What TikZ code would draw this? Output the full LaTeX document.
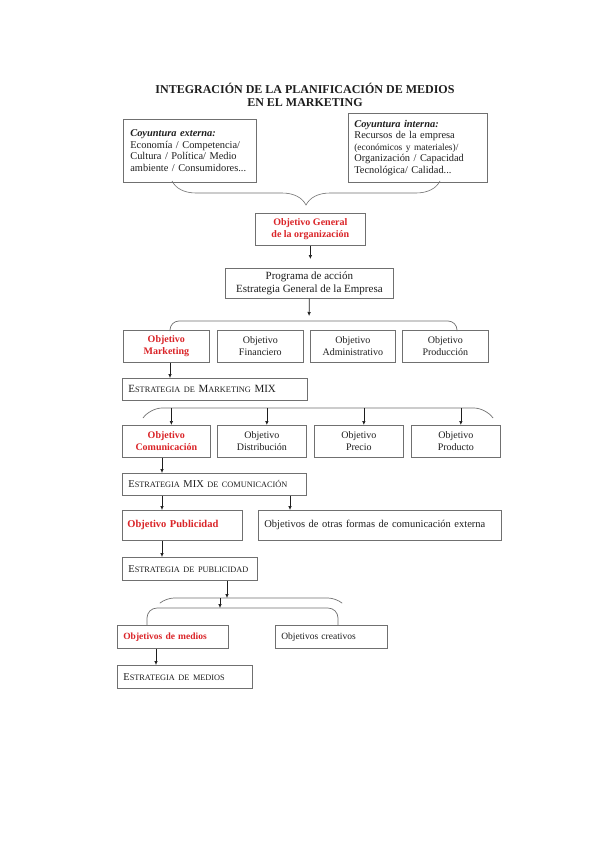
\documentclass[tikz,border=0pt]{standalone}
\usepackage{fontspec}
\setmainfont{Liberation Serif}
\usetikzlibrary{arrows.meta,decorations.pathreplacing}

% fake small capitals (the font has none)
\newcommand\lowcap[1]{{\fontsize{8.3}{10}\selectfont #1}}

\begin{document}
\begin{tikzpicture}[x=1pt,y=-1pt,>={Latex[length=4pt,width=3.6pt]},
  box/.style={draw=framecolor,line width=0.7pt,anchor=north west,inner sep=0pt,
    text=inkcolor,align=center,font=\fontsize{10}{12.3}\selectfont},
  leftbox/.style={align=left,inner xsep=6pt},
  goal/.style={text=goalcolor,font=\bfseries\fontsize{10}{12.3}\selectfont},
  stratbox/.style={box,leftbox,minimum height=22pt,font=\fontsize{10.5}{12}\selectfont},
  bracket/.style={draw=framecolor,line width=0.7pt},
  link/.style={->,draw=inkcolor,line width=0.7pt}]
\definecolor{framecolor}{RGB}{112,112,112}
\definecolor{inkcolor}{RGB}{30,30,30}
\definecolor{goalcolor}{RGB}{218,36,40}

\fill[white] (0,0) rectangle (599,848);
\useasboundingbox (0,0) rectangle (599,848);

% Title.
\node[text=inkcolor,align=center,font=\bfseries\fontsize{12}{13}\selectfont] (title) at (305,95)
  {INTEGRACIÓN DE LA PLANIFICACIÓN DE MEDIOS\\EN EL MARKETING};

% External and internal context, gathered by a brace.
\node[box,leftbox,inner xsep=7pt,text width=119pt,minimum height=63pt,
  font=\fontsize{10.4}{11.5}\selectfont] (ext) at (123,119)
  {\textbf{\textit{Coyuntura externa:}}\\Economía / Competencia/\\Cultura / Política/ Medio\\ambiente / Consumidores...};
\node[box,leftbox,text width=127pt,minimum height=69pt,
  font=\fontsize{10.4}{11.5}\selectfont] (int) at (348,113)
  {\textbf{\textit{Coyuntura interna:}}\\Recursos de la empresa\\{\fontsize{9.4}{11.5}\selectfont(económicos y materiales)/}\\Organización / Capacidad\\Tecnológica/ Calidad...};
\draw[bracket,line width=0.6pt,decorate,decoration={brace,amplitude=24pt}] (440,181) -- (172,181);

% General objective and action programme.
\node[box,goal,minimum width=110pt,minimum height=32pt] (gen) at (255,213)
  {Objetivo General\\de la organización};
\node[box,minimum width=168pt,minimum height=30pt,font=\fontsize{11}{12.7}\selectfont] (prog) at (225,268)
  {Programa de acción\\Estrategia General de la Empresa};
\draw[link,shorten >=9pt] (gen.south) -- (gen.south |- prog.north);

% Objectives of the company.
\coordinate (b1) at (309,321);
\draw[bracket,rounded corners=9pt] (170,331) -- (170,321) -- (457,321) -- (457,331);
\draw[link,shorten >=5pt] (prog.south) -- (b1);
\node[box,goal,minimum width=86pt,minimum height=32pt] (mkt) at (123,330) {Objetivo\\Marketing};
\node[box,minimum width=86pt,minimum height=32pt] (fin) at (217,330) {Objetivo\\Financiero};
\node[box,minimum width=85pt,minimum height=32pt] (adm) at (310,330) {Objetivo\\Administrativo};
\node[box,minimum width=86pt,minimum height=32pt] (prod) at (402,330) {Objetivo\\Producción};

% Marketing mix.
\coordinate (laneM) at (170,0);
\node[stratbox,text width=173pt,font=\fontsize{11}{12}\selectfont] (mix) at (122,378)
  {E\lowcap{STRATEGIA DE} M\lowcap{ARKETING} MIX};
\draw[link] (mkt.south -| laneM) -- (mix.north -| laneM);

\coordinate (b2) at (0,408);
\draw[bracket,rounded corners=12pt] (143,418) -- (150,408) -- (486,408) -- (493,418);
\node[box,goal,minimum width=88pt,minimum height=32pt] (com) at (122,425) {Objetivo\\Comunicación};
\node[box,minimum width=89pt,minimum height=32pt] (dis) at (217,425) {Objetivo\\Distribución};
\node[box,minimum width=89pt,minimum height=32pt] (pre) at (314,425) {Objetivo\\Precio};
\node[box,minimum width=89pt,minimum height=32pt] (pto) at (411,425) {Objetivo\\Producto};
\foreach \n in {com,dis,pre,pto}
  \draw[link] ([xshift=5pt]\n.north |- b2) -- ([xshift=5pt]\n.north);

% Communication mix.
\coordinate (laneA) at (162,0);
\coordinate (laneB) at (290,0);
\node[stratbox,text width=172pt] (mixc) at (122,473)
  {E\lowcap{STRATEGIA} MIX \lowcap{DE COMUNICACIÓN}};
\draw[link] (com.south -| laneA) -- (mixc.north -| laneA);

\node[box,leftbox,inner xsep=5pt,text width=110pt,minimum height=30pt,goal,
  font=\bfseries\fontsize{10.5}{12}\selectfont] (pub) at (122,510) {Objetivo Publicidad};
\node[box,leftbox,text width=231pt,minimum height=30pt,font=\fontsize{10.5}{12}\selectfont] (otras) at (258,510)
  {Objetivos de otras formas de comunicación externa};
\draw[link] (mixc.south -| laneA) -- (pub.north -| laneA);
\draw[link] (mixc.south -| laneB) -- (otras.north -| laneB);

% Advertising strategy and media.
\node[stratbox,text width=123pt,minimum height=23pt] (estp) at (122,557)
  {E\lowcap{STRATEGIA DE PUBLICIDAD}};
\draw[link] (pub.south -| laneA) -- (estp.north -| laneA);

\coordinate (b3) at (227,598);
\coordinate (b4) at (220,608);
\draw[bracket,rounded corners=8pt] (160,603) -- (166,598) -- (336,598) -- (342,603);
\draw[bracket,rounded corners=10pt] (147,625) -- (147,608) -- (338,608) -- (338,625);
\draw[link] (estp.south -| b3) -- (b3);
\draw[link] (b4 |- b3) -- (b4);

\coordinate (laneD) at (156,0);
\node[box,leftbox,text width=99pt,minimum height=23pt,goal,
  font=\bfseries\fontsize{9.5}{11}\selectfont] (med) at (117,625) {Objetivos de medios};
\node[box,leftbox,text width=100pt,minimum height=23pt,font=\fontsize{9.5}{11}\selectfont] (cre) at (275,625)
  {Objetivos creativos};
\node[stratbox,text width=123pt,minimum height=23pt] (estm) at (117,665)
  {E\lowcap{STRATEGIA DE MEDIOS}};
\draw[link] (med.south -| laneD) -- (estm.north -| laneD);
\end{tikzpicture}
\end{document}
